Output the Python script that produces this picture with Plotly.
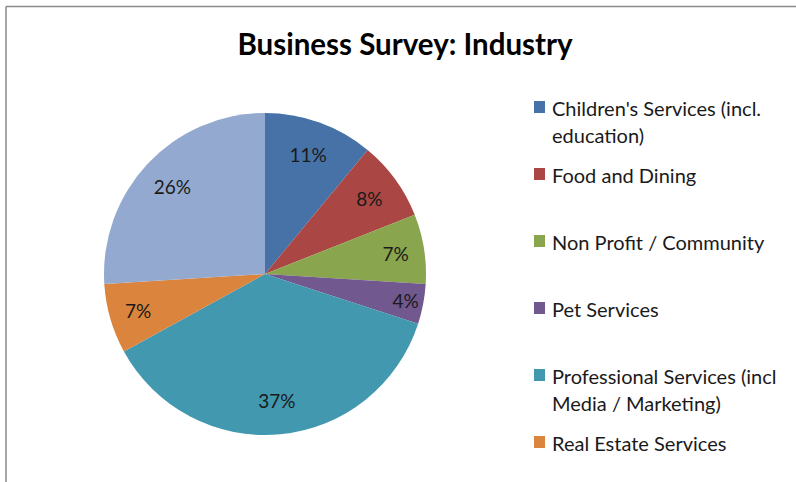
import plotly.graph_objects as go

# ---- data ----
labels = [
    "Children's Services (incl. education)",
    "Food and Dining",
    "Non Profit / Community",
    "Pet Services",
    "Professional Services (incl Media / Marketing)",
    "Real Estate Services",
    "Other",
]
values = [11, 8, 7, 4, 37, 7, 26]
colors = ["#4672A8", "#AA4643", "#89A54E", "#71588F", "#4198AF", "#DB843D", "#93A9CF"]
# legend entries visible in the reference (the last one is cut off below the frame)
legend_lines = [
    ["Children's Services (incl.", "education)"],
    ["Food and Dining"],
    ["Non Profit / Community"],
    ["Pet Services"],
    ["Professional Services (incl", "Media / Marketing)"],
    ["Real Estate Services"],
]
title_text = "Business Survey: Industry"

W, H = 796, 482
FONT = "Lato, Carlito, Calibri, sans-serif"
domain = dict(x=[104 / W, 426 / W], y=[47 / H, 369 / H])

fig = go.Figure()
# coloured slices
fig.add_trace(go.Pie(
    labels=labels, values=values, sort=False,
    direction="clockwise", rotation=0,
    marker=dict(colors=colors, line=dict(width=0)),
    textinfo="none", showlegend=False,
    hoverinfo="label+percent",
    domain=domain,
))
# transparent ring carrying the percentage labels (places them toward the rim)
fig.add_trace(go.Pie(
    labels=labels, values=values, sort=False,
    direction="clockwise", rotation=0, hole=0.58,
    marker=dict(colors=["rgba(0,0,0,0)"] * len(values), line=dict(width=0)),
    texttemplate="%{percent:.0%}",
    textposition="inside",
    insidetextorientation="horizontal",
    textfont=dict(family=FONT, size=19, color="#1a1a1a"),
    showlegend=False, hoverinfo="skip",
    domain=domain,
))

shapes = []
annotations = []

sq_x0, sq_w, sq_h = 534, 11, 12
text_x = 550
first_center = 107
step = 67
line_gap = 26.5
for i, lines in enumerate(legend_lines):
    cy = first_center + i * step
    shapes.append(dict(
        type="rect", xref="paper", yref="paper",
        x0=sq_x0 / W, x1=(sq_x0 + sq_w) / W,
        y0=1 - (cy + sq_h / 2) / H, y1=1 - (cy - sq_h / 2) / H,
        fillcolor=colors[i], line=dict(width=0),
    ))
    for j, ln in enumerate(lines):
        annotations.append(dict(
            xref="paper", yref="paper",
            x=text_x / W, y=1 - (cy + 1 + j * line_gap) / H,
            xanchor="left", yanchor="middle",
            text=ln, showarrow=False,
            font=dict(family=FONT, size=20, color="#1a1a1a"),
        ))

# frame lines (top and left)
shapes.append(dict(type="line", xref="paper", yref="paper",
                   x0=6 / W, x1=1, y0=1 - 6.5 / H, y1=1 - 6.5 / H,
                   line=dict(color="#8a8a8a", width=1.5)))
shapes.append(dict(type="line", xref="paper", yref="paper",
                   x0=6 / W, x1=6 / W, y0=0, y1=1 - 6.5 / H,
                   line=dict(color="#8a8a8a", width=1.5)))

fig.update_layout(
    width=W, height=H,
    margin=dict(l=0, r=0, t=0, b=0),
    paper_bgcolor="white",
    plot_bgcolor="white",
    uniformtext=dict(minsize=19, mode="show"),
    title=dict(
        text="<b>" + title_text + "</b>",
        x=405 / W, xanchor="center",
        y=1 - 45 / H, yanchor="middle",
        font=dict(family=FONT, size=29.5, color="#000000"),
    ),
    shapes=shapes,
    annotations=annotations,
)

fig.write_html("out.html", config={"displayModeBar": False},
               post_script="document.body.style.margin='0px';")
